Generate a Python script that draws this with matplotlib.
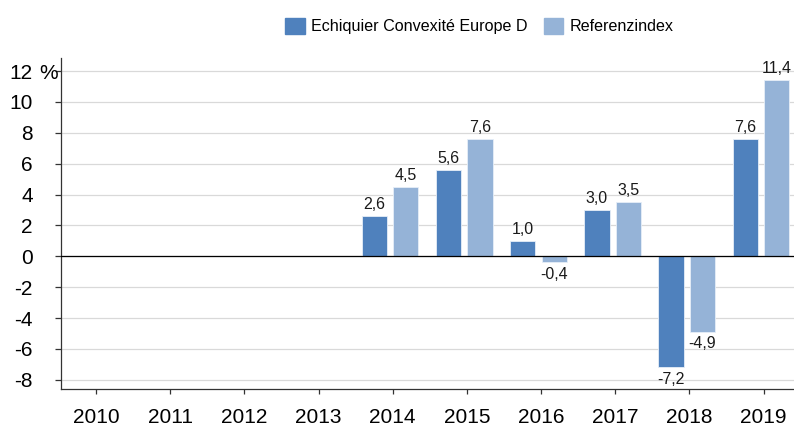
import numpy as np
import matplotlib.pyplot as plt
import matplotlib.patches as mpatches

plt.rcParams['font.family'] = ['Liberation Sans', 'DejaVu Sans']

# data
YEARS = ["2010", "2011", "2012", "2013", "2014", "2015", "2016", "2017", "2018", "2019"]
FUND = [np.nan, np.nan, np.nan, np.nan, 2.6, 5.6, 1.0, 3.0, -7.2, 7.6]
INDEX = [np.nan, np.nan, np.nan, np.nan, 4.5, 7.6, -0.4, 3.5, -4.9, 11.4]
SERIES = ["Echiquier Convexité Europe D", "Referenzindex"]
YTICKS = [-8, -6, -4, -2, 0, 2, 4, 6, 8, 10, 12]

DARK = "#4f81bd"
LIGHT = "#95b3d7"

fig = plt.figure(figsize=(7.94, 4.26), dpi=100)
ax = fig.add_axes([0.0768, 0.0869, 0.9232, 0.7769])

x = np.arange(len(YEARS))
w = 0.34

for vals, dx, col in [(FUND, -0.247, DARK), (INDEX, 0.177, LIGHT)]:
    ax.bar(x + dx, vals, width=w, color=col, edgecolor="#e6eef8", linewidth=0.6, zorder=3)
    for xi, v in zip(x, vals):
        if np.isnan(v):
            continue
        lbl = f"{v:.1f}".replace(".", ",")
        if v >= 0:
            ax.annotate(lbl, (xi + dx, v), xytext=(0, 3), textcoords="offset points",
                        ha="center", va="bottom", fontsize=11.5, color="#1a1a1a")
        else:
            ax.annotate(lbl, (xi + dx, v), xytext=(0, -3), textcoords="offset points",
                        ha="center", va="top", fontsize=11.5, color="#1a1a1a")

ax.axhline(0, color="black", lw=0.9, zorder=4)

ax.set_xlim(-0.4725, 9.41)
ax.set_ylim(-8.6, 12.85)
ax.set_xticks(x)
ax.set_xticklabels(YEARS, fontsize=15)
ax.set_yticks(YTICKS)
ax.set_yticklabels([str(t) for t in YTICKS], fontsize=15)
ax.tick_params(axis="y", length=4.3, width=0.9, pad=16, color="#333333")
ax.tick_params(axis="x", length=3.5, width=0.9, pad=10, color="#333333")

ax.grid(axis="y", color="#d9d9d9", lw=0.9, zorder=0)
ax.set_axisbelow(True)
for s in ["top", "right"]:
    ax.spines[s].set_visible(False)
for s in ["left", "bottom"]:
    ax.spines[s].set_color("#333333")
    ax.spines[s].set_linewidth(0.9)

# percent sign after the top tick label
ax.annotate("%", (0, 12), xycoords=("axes fraction", "data"), xytext=(-3, 0),
            textcoords="offset pixels", ha="right", va="center_baseline", fontsize=15)

handles = [mpatches.Patch(color=DARK, label=SERIES[0]),
           mpatches.Patch(color=LIGHT, label=SERIES[1])]
fig.legend(handles=handles, loc="center", bbox_to_anchor=(0.604, 0.939), ncol=2,
           frameon=False, fontsize=11.6, handlelength=1.2, handleheight=1.2,
           handletextpad=0.4, columnspacing=1.0, borderaxespad=0)

fig.savefig("out.png", dpi=100)
